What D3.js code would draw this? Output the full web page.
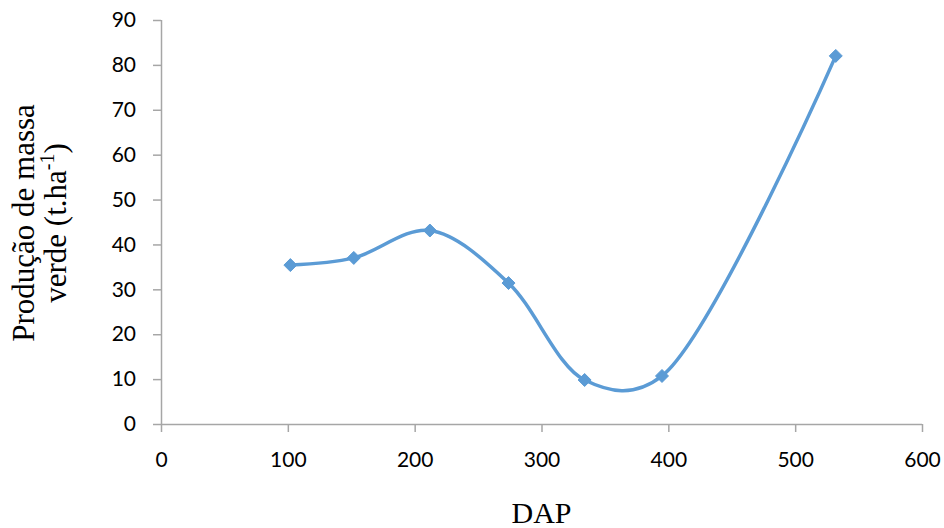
<!DOCTYPE html>
<html>
<head>
<meta charset="utf-8">
<script src="https://cdn.jsdelivr.net/npm/d3@7"></script>
<style>
  html, body { margin: 0; padding: 0; background: #fff; }
  svg { display: block; }
</style>
</head>
<body>
<svg id="chart" width="944" height="528"></svg>
<script>
// DAP (days after planting) and green mass production (t.ha-1)
const dap = [102, 152, 212, 274, 334, 395, 532];
const massaVerde = [35.4, 37.0, 43.1, 31.4, 9.8, 10.7, 82.0];
const xTicks = [0, 100, 200, 300, 400, 500, 600];
const yTicks = [0, 10, 20, 30, 40, 50, 60, 70, 80, 90];

const svg = d3.select("#chart");
const plotLeft = 161, plotRight = 922, plotTop = 20, plotBottom = 424;
const axisColor = "#a6a6a6";
const lineColor = "#5b9bd5";
const tickFont = "Lato, 'Open Sans', sans-serif";
const titleFont = "'Liberation Serif', 'Times New Roman', serif";

const x = d3.scaleLinear().domain([0, 600]).range([plotLeft, plotRight]);
const y = d3.scaleLinear().domain([0, 90]).range([plotBottom, plotTop]);

// y axis
const yAxis = svg.append("g")
  .attr("transform", `translate(${plotLeft},0)`)
  .call(d3.axisLeft(y).tickValues(yTicks).tickSize(8).tickPadding(17).tickFormat(d3.format("d")));
// x axis
const xAxis = svg.append("g")
  .attr("transform", `translate(0,${plotBottom})`)
  .call(d3.axisBottom(x).tickValues(xTicks).tickSize(8).tickPadding(20).tickFormat(d3.format("d")));

[yAxis, xAxis].forEach(g => {
  g.select(".domain").attr("stroke", axisColor).attr("stroke-width", 1.5);
  g.selectAll(".tick line").attr("stroke", axisColor).attr("stroke-width", 1.5);
  g.selectAll(".tick text")
    .attr("fill", "#000")
    .style("font-family", tickFont)
    .style("font-size", "21px");
});
xAxis.select(".domain").attr("d", `M${plotLeft},0.5H${plotRight}`);
yAxis.select(".domain").attr("d", `M0.5,${plotTop}V${plotBottom}`);

// smoothed line through the points
const pts = dap.map((d, i) => [x(d), y(massaVerde[i])]);
svg.append("path")
  .datum(pts)
  .attr("fill", "none")
  .attr("stroke", lineColor)
  .attr("stroke-width", 3.5)
  .attr("stroke-linejoin", "round")
  .attr("d", d3.line().curve(d3.curveCatmullRom.alpha(0.375)));

// diamond markers
svg.append("g").selectAll("path")
  .data(pts)
  .join("path")
  .attr("transform", d => `translate(${d[0]},${d[1]})`)
  .attr("d", "M0,-6.5L6.5,0L0,6.5L-6.5,0Z")
  .attr("fill", lineColor)
  .attr("stroke", lineColor)
  .attr("stroke-width", 1);

// axis titles
svg.append("text")
  .attr("x", x(300))
  .attr("y", 523)
  .attr("text-anchor", "middle")
  .style("font-family", titleFont)
  .style("font-size", "30px")
  .text("DAP");

const yTitle = svg.append("text")
  .attr("transform", "translate(0,223) rotate(-90)")
  .attr("text-anchor", "middle")
  .style("font-family", titleFont)
  .style("font-size", "31px");
yTitle.append("tspan").attr("x", 0).attr("y", 34).text("Produção de massa");
const l2 = yTitle.append("tspan").attr("x", 0).attr("y", 66);
l2.append("tspan").text("verde (t.ha");
l2.append("tspan").attr("dy", -12).style("font-size", "20px").text("-1");
l2.append("tspan").attr("dy", 12).text(")");
</script>
</body>
</html>
